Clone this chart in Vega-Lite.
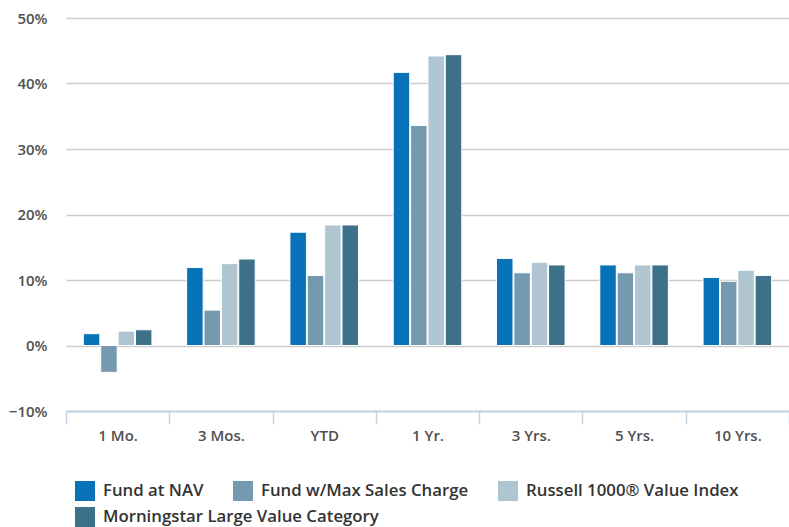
{
  "$schema": "https://vega.github.io/schema/vega-lite/v6.json",
  "width": 723,
  "height": 393,
  "autosize": {"type": "none"},
  "padding": {"left": 66, "top": 18, "right": 0, "bottom": 116},
  "background": "white",
  "config": {
    "view": {"stroke": null},
    "font": "Open Sans",
    "legend": {
      "title": null,
      "orient": "none",
      "direction": "horizontal",
      "symbolType": "square",
      "symbolSize": 400,
      "symbolStrokeWidth": 0,
      "symbolOpacity": 1,
      "labelFontSize": 16.8,
      "labelFontWeight": 600,
      "labelColor": "#333333",
      "labelOffset": 8,
      "columnPadding": 29,
      "labelLimit": 400
    }
  },
  "data": {
    "values": [
      {"period": "1 Mo.", "series": "Fund at NAV", "value": 1.8},
      {"period": "1 Mo.", "series": "Fund w/Max Sales Charge", "value": -4.1},
      {"period": "1 Mo.", "series": "Russell 1000® Value Index", "value": 2.2},
      {"period": "1 Mo.", "series": "Morningstar Large Value Category", "value": 2.4},
      {"period": "3 Mos.", "series": "Fund at NAV", "value": 11.9},
      {"period": "3 Mos.", "series": "Fund w/Max Sales Charge", "value": 5.4},
      {"period": "3 Mos.", "series": "Russell 1000® Value Index", "value": 12.5},
      {"period": "3 Mos.", "series": "Morningstar Large Value Category", "value": 13.2},
      {"period": "YTD", "series": "Fund at NAV", "value": 17.3},
      {"period": "YTD", "series": "Fund w/Max Sales Charge", "value": 10.7},
      {"period": "YTD", "series": "Russell 1000® Value Index", "value": 18.4},
      {"period": "YTD", "series": "Morningstar Large Value Category", "value": 18.4},
      {"period": "1 Yr.", "series": "Fund at NAV", "value": 41.7},
      {"period": "1 Yr.", "series": "Fund w/Max Sales Charge", "value": 33.6},
      {"period": "1 Yr.", "series": "Russell 1000® Value Index", "value": 44.2},
      {"period": "1 Yr.", "series": "Morningstar Large Value Category", "value": 44.4},
      {"period": "3 Yrs.", "series": "Fund at NAV", "value": 13.3},
      {"period": "3 Yrs.", "series": "Fund w/Max Sales Charge", "value": 11.1},
      {"period": "3 Yrs.", "series": "Russell 1000® Value Index", "value": 12.7},
      {"period": "3 Yrs.", "series": "Morningstar Large Value Category", "value": 12.3},
      {"period": "5 Yrs.", "series": "Fund at NAV", "value": 12.3},
      {"period": "5 Yrs.", "series": "Fund w/Max Sales Charge", "value": 11.1},
      {"period": "5 Yrs.", "series": "Russell 1000® Value Index", "value": 12.3},
      {"period": "5 Yrs.", "series": "Morningstar Large Value Category", "value": 12.3},
      {"period": "10 Yrs.", "series": "Fund at NAV", "value": 10.4},
      {"period": "10 Yrs.", "series": "Fund w/Max Sales Charge", "value": 9.8},
      {"period": "10 Yrs.", "series": "Russell 1000® Value Index", "value": 11.5},
      {"period": "10 Yrs.", "series": "Morningstar Large Value Category", "value": 10.7}
    ]
  },
  "encoding": {
    "x": {
      "field": "period",
      "type": "nominal",
      "sort": null,
      "scale": {"paddingInner": 0, "paddingOuter": 0},
      "axis": {
        "title": null,
        "labelAngle": 0,
        "labelFontSize": 15,
        "labelFontWeight": 600,
        "labelColor": "#505050",
        "labelPadding": 4,
        "domainColor": "#c5d3e2",
        "domainWidth": 2,
        "tickColor": "#c5d3e2",
        "tickWidth": 1.5,
        "tickSize": 13,
        "tickBand": "extent"
      }
    },
    "xOffset": {
      "field": "series",
      "type": "nominal",
      "scale": {
        "domain": ["Fund at NAV", "Fund w/Max Sales Charge", "Russell 1000® Value Index", "Morningstar Large Value Category"],
        "paddingInner": 0.05,
        "paddingOuter": 1.45
      }
    },
    "y": {
      "field": "value",
      "type": "quantitative",
      "scale": {"domain": [-10, 50], "nice": false, "zero": false},
      "axis": {
        "title": null,
        "values": [-10, 0, 10, 20, 30, 40, 50],
        "labelExpr": "format(datum.value, 'd') + '%'",
        "labelFontSize": 15,
        "labelFontWeight": 600,
        "labelColor": "#505050",
        "labelPadding": 19,
        "domain": false,
        "ticks": false,
        "grid": true,
        "gridColor": "#cccccc",
        "gridWidth": 1.5
      }
    }
  },
  "layer": [
    {
      "transform": [{"filter": "datum.series !== 'Morningstar Large Value Category'"}],
      "mark": {"type": "bar", "stroke": "white", "strokeWidth": 1},
      "encoding": {
        "color": {
          "field": "series",
          "type": "nominal",
          "scale": {
            "domain": ["Fund at NAV", "Fund w/Max Sales Charge", "Russell 1000® Value Index"],
            "range": ["#0772b8", "#7599ae", "#afc6d2"]
          },
          "legend": {"legendX": 9, "legendY": 463}
        }
      }
    },
    {
      "transform": [{"filter": "datum.series === 'Morningstar Large Value Category'"}],
      "mark": {"type": "bar", "stroke": "white", "strokeWidth": 1},
      "encoding": {
        "color": {
          "field": "series",
          "type": "nominal",
          "scale": {
            "domain": ["Morningstar Large Value Category"],
            "range": ["#3d7189"]
          },
          "legend": {"legendX": 9, "legendY": 489}
        }
      }
    }
  ],
  "resolve": {"scale": {"color": "independent"}, "legend": {"color": "independent"}}
}
